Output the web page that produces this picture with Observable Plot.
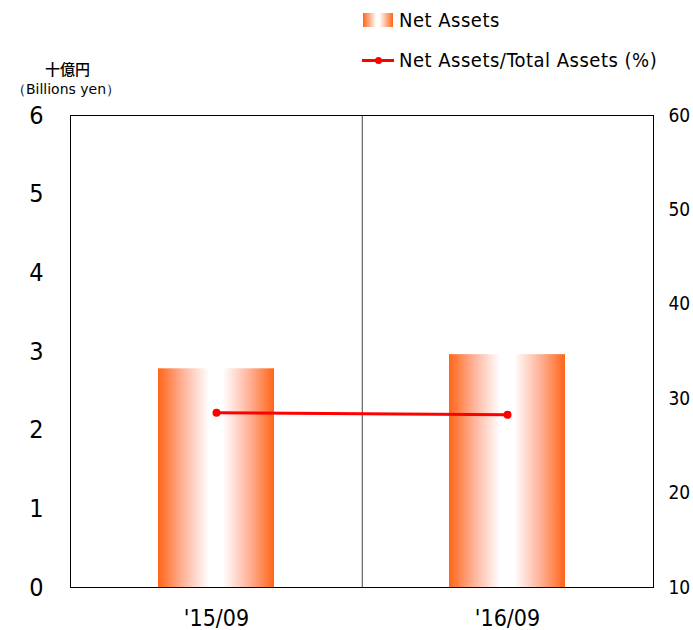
<!DOCTYPE html>
<html><head><meta charset="utf-8">
<script src="https://cdn.jsdelivr.net/npm/d3@7"></script>
<script src="https://cdn.jsdelivr.net/npm/@observablehq/plot@0.6"></script>
<style>
body{margin:0;background:#fff;font-family:"DejaVu Sans Condensed","DejaVu Sans","Noto Sans CJK JP",sans-serif;}
#wrap{position:relative;width:693px;height:630px;}
.abs{position:absolute;white-space:nowrap;color:#000;}
</style></head><body>
<div id="wrap"></div>
<script>
const periods = ["'15/09", "'16/09"];
const netAssets = [2.78, 2.96];
const ratio = [28.5, 28.3];
const leftTicks = [0,1,2,3,4,5,6];
const rightTicks = [10,20,30,40,50,60];

const toLeft = v => (v - 10) / 50 * 6;
const bars = periods.map((p,i)=>({p, v: netAssets[i]}));
const pts = periods.map((p,i)=>({p, v: toLeft(ratio[i])}));

const W = 693, ML = 70, MR = 40;
const step = (W - ML - MR) / 2;

const chart = Plot.plot({
  width: W, height: 630,
  marginLeft: ML, marginRight: MR, marginTop: 115, marginBottom: 43,
  style: {fontFamily: "'DejaVu Sans Condensed', 'DejaVu Sans', sans-serif", background: "#fff", overflow: "visible"},
  x: {domain: periods, padding: 0.6, paddingOuter: 0.3, label: null},
  y: {domain: [0, 6], label: null},
  marks: [
    Plot.barY(bars, {x: "p", y: "v", fill: "url(#naGrad)"}),
    Plot.ruleX([periods[0]], {x: d => d, dx: step / 2, stroke: "#444", strokeWidth: 1}),
    Plot.line(pts, {x: "p", y: "v", stroke: "#ff0000", strokeWidth: 3}),
    Plot.dot(pts, {x: "p", y: "v", fill: "#ff0000", r: 4}),
    Plot.frame({stroke: "#000", strokeWidth: 1}),
    Plot.axisY(leftTicks, {anchor: "left", tickSize: 0, tickPadding: 27, fontSize: 25, tickFormat: d => d}),
    Plot.axisY(rightTicks.map(toLeft), {anchor: "right", tickSize: 0, tickPadding: 15, fontSize: 19, tickFormat: d => Math.round(d / 6 * 50 + 10)}),
    Plot.axisX({tickSize: 0, tickPadding: 22, fontSize: 23})
  ]
});

const svg = d3.select(chart);
const defs = svg.insert("defs", ":first-child");
const grad = defs.append("linearGradient").attr("id", "naGrad").attr("x1", "0").attr("x2", "1").attr("y1", "0").attr("y2", "0");
[[0,"#ff6518"],[0.22,"#ffb49c"],[0.44,"#ffffff"],[0.56,"#ffffff"],[0.78,"#ffb49c"],[1,"#ff6518"]].forEach(([o,c]) =>
  grad.append("stop").attr("offset", o).attr("stop-color", c));

const wrap = document.getElementById("wrap");
wrap.appendChild(chart);
chart.style.position = "absolute"; chart.style.left = "0"; chart.style.top = "0";

function addDiv(html, css){ const d = document.createElement("div"); d.className = "abs"; d.innerHTML = html; Object.assign(d.style, css); wrap.appendChild(d); return d; }
// legend
addDiv('', {left: "363px", top: "13px", width: "30px", height: "14px", background: "linear-gradient(to right,#ff6518,#ffffff 45%,#ffffff 55%,#ff6518)"});
addDiv('Net Assets', {left: "399px", top: "8px", fontSize: "20px", lineHeight: "24px", letterSpacing: "0.5px"});
addDiv('', {left: "362px", top: "59px", width: "32px", height: "3px", background: "#ff0000"});
addDiv('', {left: "375px", top: "57px", width: "7px", height: "7px", borderRadius: "50%", background: "#ff0000"});
addDiv('Net Assets/Total Assets (%)', {left: "399px", top: "48px", fontSize: "20px", lineHeight: "24px", letterSpacing: "0.5px"});
// axis title
addDiv('十億円', {left: "30px", top: "60px", width: "75px", textAlign: "center", fontSize: "15px", lineHeight: "18px", fontFamily: "'Noto Sans CJK JP'", fontWeight: "500"});
addDiv('（Billions yen）', {left: "2px", top: "80px", width: "128px", textAlign: "center", fontSize: "14px", lineHeight: "18px", fontFamily: "'DejaVu Sans'"});
</script>
</body></html>
